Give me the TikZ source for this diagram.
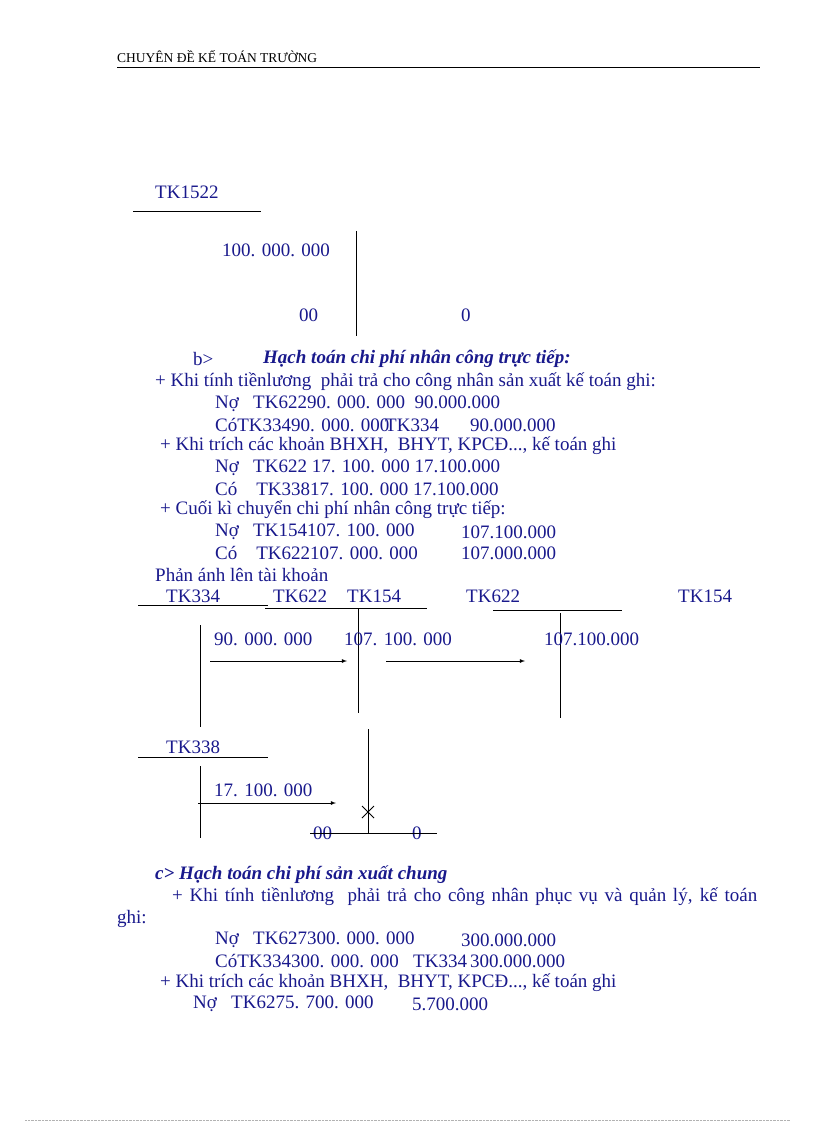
\documentclass[tikz,border=0pt]{standalone}
\usepackage{fontspec}
\setmainfont{Liberation Serif}
\definecolor{ink}{RGB}{25,25,140}
\begin{document}
\begin{tikzpicture}[x=1pt,y=-1pt,
  t/.style={anchor=west,inner sep=0pt,text=ink,font=\fontsize{19}{22}\selectfont},
  hd/.style={t,font=\fontsize{19}{22}\selectfont\bfseries\itshape},
  ln/.style={line width=0.8pt,black},
  arr/.style={ln,-latex}]
\useasboundingbox (0,0) rectangle (816,1123);
\node[anchor=west,inner sep=0pt,font=\fontsize{13.5}{15}\selectfont] (hdr) at (117,57) {CHUYÊN ĐỀ KẾ TOÁN TRƯỜNG};
\draw[line width=0.6pt] (117,67) -- (760,67);
\draw[densely dotted,gray!60] (25,1120) -- (790,1120);
% TK1522
\node[t] (a1) at (155,192) {TK1522};
\draw[ln] (133,211) -- (261,211);
\node[t] (a2) at (222,250) {100. 000. 000};
\draw[ln] (356,231) -- (356,336);
\node[t] (a3) at (299,315) {00};
\node[t] (a4) at (461,315) {0};
% b
\node[t] (b0) at (193,359) {b>};
\node[hd] (b1) at (263,359) {Hạch toán chi phí nhân công trực tiếp:};
\node[t] (b2) at (155,382) {+ Khi tính tiềnlương\ \ phải trả cho công nhân sản xuất kế toán ghi:};
\node[t] (b3) at (215,404) {Nợ\ \ \ TK62290. 000. 000\ \ 90.000.000};
\node[t] (b4) at (215,425) {CóTK33490. 000. 000};
\node[t] (b4b) at (385,425) {TK334};
\node[t] (b4c) at (470,425) {90.000.000};
\node[t] (b5) at (160,446) {+ Khi trích các khoản BHXH,\ \ BHYT, KPCĐ..., kế toán ghi};
\node[t] (b6) at (215,468) {Nợ\ \ \ TK622 17. 100. 000 17.100.000};
\node[t] (b7) at (215,489) {Có\ \ \ \ TK33817. 100. 000 17.100.000};
\node[t] (b8) at (160,510) {+ Cuối kì chuyển chi phí nhân công trực tiếp:};
\node[t] (b9) at (215,532) {Nợ\ \ \ TK154107. 100. 000};
\node[t] (b9b) at (461,532) {107.100.000};
\node[t] (b10) at (215,553) {Có\ \ \ \ TK622107. 000. 000};
\node[t] (b10b) at (461,553) {107.000.000};
\node[t] (b11) at (155,575) {Phản ánh lên tài khoản};
% T accounts
\node[t] (k1) at (166,596) {TK334};
\node[t] (k2) at (273,596) {TK622};
\node[t] (k3) at (347,596) {TK154};
\node[t] (k4) at (466,596) {TK622};
\node[t] (k5) at (678,596) {TK154};
\draw[ln] (138,605) -- (268,605);
\draw[ln] (265,608) -- (427,608);
\draw[ln] (493,610) -- (622,610);
\draw[ln] (200,625) -- (200,727);
\draw[ln] (358,609) -- (358,713);
\draw[ln] (560,613) -- (560,718);
\node[t] (v1) at (214,639) {90. 000. 000};
\node[t] (v2) at (344,639) {107. 100. 000};
\node[t] (v3) at (544,639) {107.100.000};
\coordinate (p1) at (210,661); \coordinate (p2) at (347,661);
\coordinate (p3) at (386,661); \coordinate (p4) at (525,661);
\draw[arr] (p1) -- (p2);
\draw[arr] (p3) -- (p4);
\node[t] (k6) at (166,747) {TK338};
\draw[ln] (138,757) -- (268,757);
\draw[ln] (200,766) -- (200,838);
\node[t] (v4) at (214,790) {17. 100. 000};
\coordinate (p5) at (198,803); \coordinate (p6) at (336,803);
\draw[arr] (p5) -- (p6);
\draw[ln] (368,729) -- (368,833);
\draw[ln] (362,806) -- (374,818) (362,818) -- (374,806);
\node[t] (z1) at (313,833) {00};
\node[t] (z2) at (412,833) {0};
\draw[ln] (310,833) -- (437,833);
% c
\node[hd] (c0) at (155,875) {c> Hạch toán chi phí sản xuất chung};
\node[t] (c1) at (172,897) {\spaceskip=4pt plus 30pt\hbox to 585pt{+ Khi tính tiềnlương\ \ phải trả cho công nhân phục vụ và quản lý, kế toán}};
\node[t] (c2) at (117,919) {ghi:};
\node[t] (c3) at (215,940) {Nợ\ \ \ TK627300. 000. 000};
\node[t] (c3b) at (461,940) {300.000.000};
\node[t] (c4) at (215,961) {CóTK334300. 000. 000};
\node[t] (c4b) at (413,961) {TK334};
\node[t] (c4c) at (470,961) {300.000.000};
\node[t] (c5) at (160,983) {+ Khi trích các khoản BHXH,\ \ BHYT, KPCĐ..., kế toán ghi};
\node[t] (c6) at (193,1004) {Nợ\ \ \ TK6275. 700. 000};
\node[t] (c6b) at (412,1004) {5.700.000};
\end{tikzpicture}
\end{document}
